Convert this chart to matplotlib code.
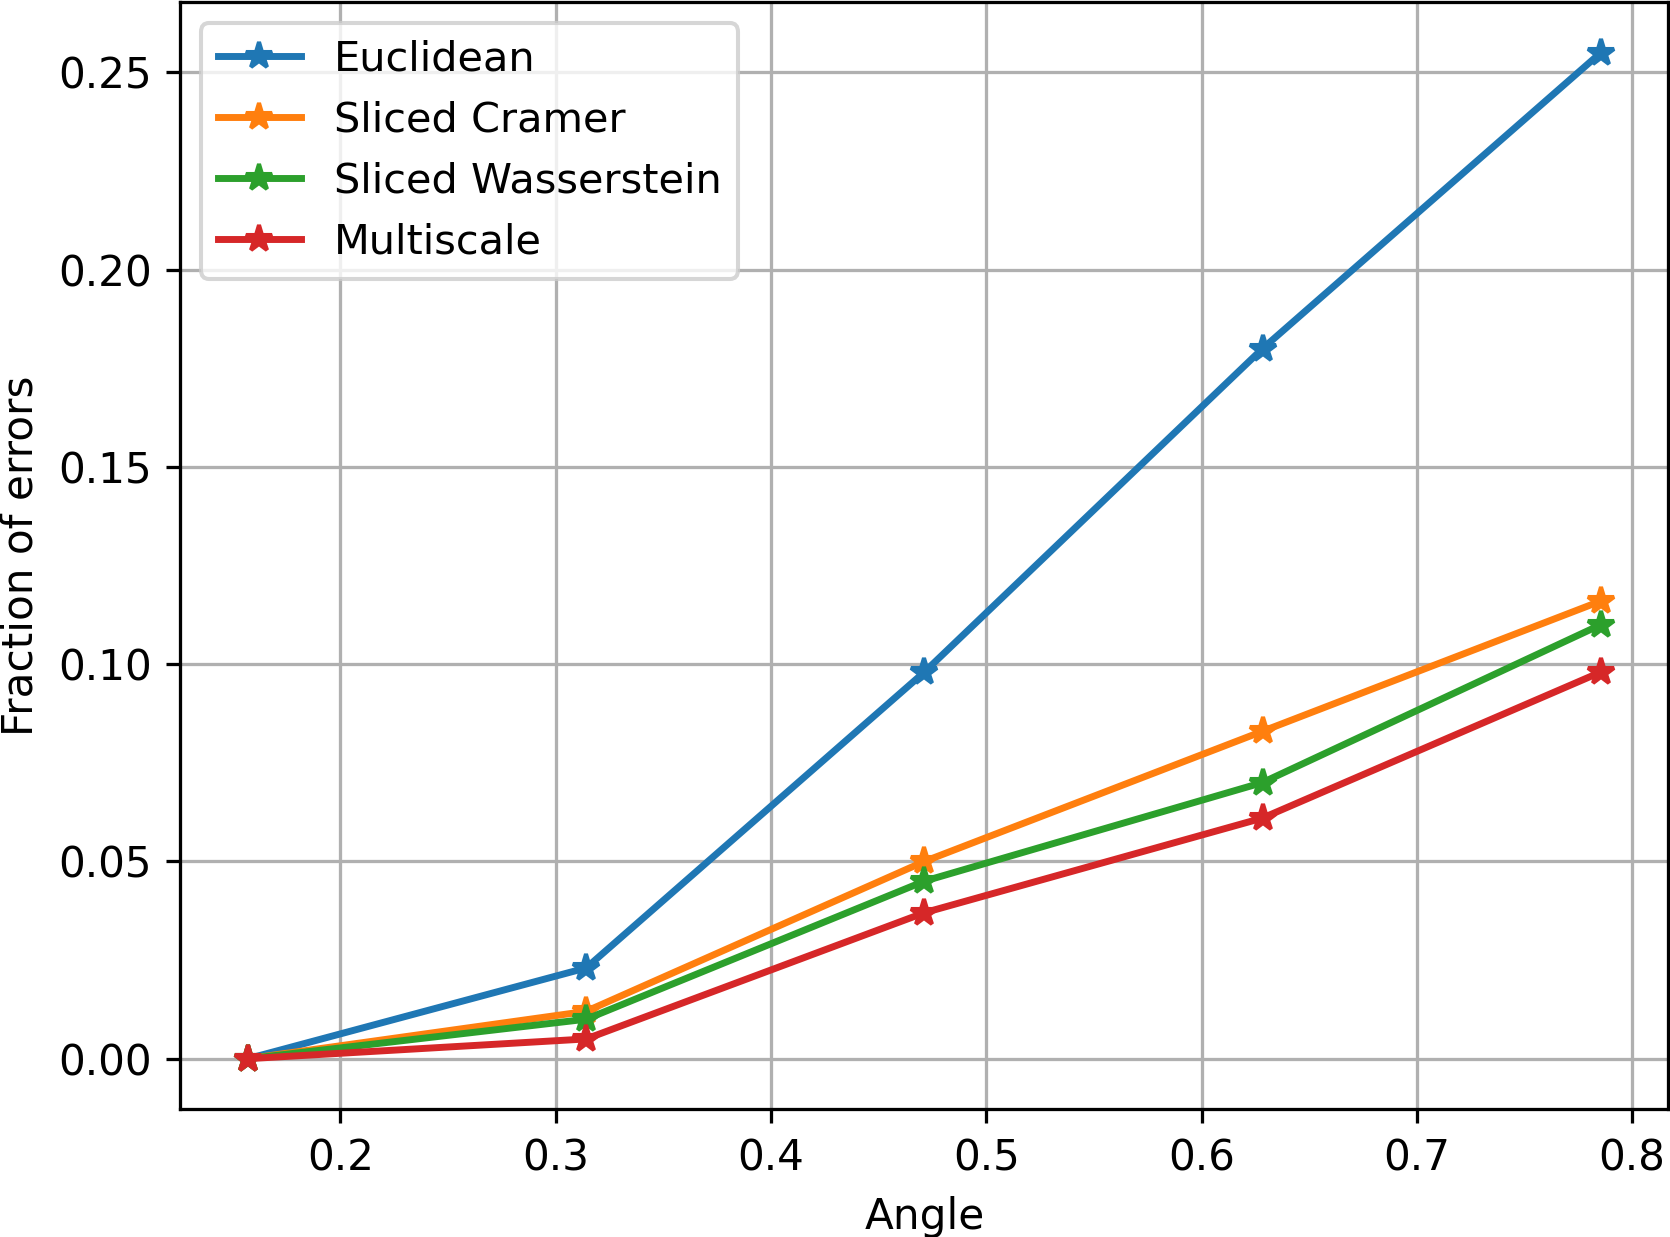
import numpy as np
import matplotlib
matplotlib.use('Agg')
from matplotlib import pyplot as plt

# angles: pi/20 .. pi/4
angles = [np.pi / 20, np.pi / 10, 3 * np.pi / 20, np.pi / 5, np.pi / 4]
euclidean = [0.0, 0.023, 0.098, 0.180, 0.255]
sliced_cramer = [0.0, 0.012, 0.050, 0.083, 0.116]
sliced_wasserstein = [0.0, 0.010, 0.045, 0.070, 0.110]
multiscale = [0.0, 0.005, 0.037, 0.061, 0.098]

plt.rcParams['font.size'] = 10.35
plt.rcParams['lines.linewidth'] = 1.7
plt.rcParams['lines.markersize'] = 6.8

dpi = 293
fig = plt.figure(figsize=(1670 / dpi, 1237 / dpi), dpi=dpi)
# the original figure is cropped right at the right spine
ax = fig.add_axes([0.108, 0.1035, 0.891, 0.8945])

ax.plot(angles, euclidean, '*-', label='Euclidean')
ax.plot(angles, sliced_cramer, '*-', label='Sliced Cramer')
ax.plot(angles, sliced_wasserstein, '*-', label='Sliced Wasserstein')
ax.plot(angles, multiscale, '*-', label='Multiscale')

ax.set_xlabel('Angle')
ax.set_ylabel('Fraction of errors')
ax.grid(True)
ax.legend(loc='upper left', fontsize=10.2)

fig.savefig('out.png', dpi=dpi)
